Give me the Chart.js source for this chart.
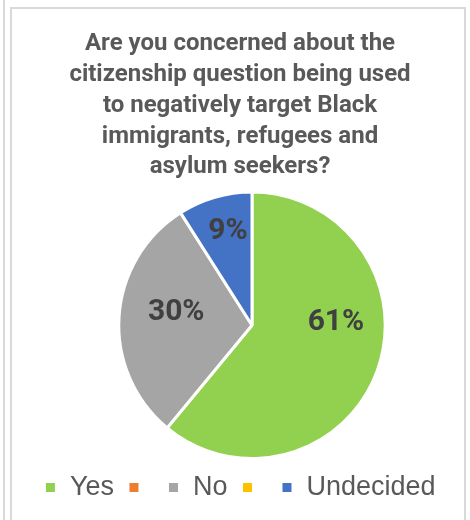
<!DOCTYPE html>
<html>
<head>
<meta charset="utf-8">
<script src="https://cdn.jsdelivr.net/npm/chart.js@4.4.0/dist/chart.umd.min.js"></script>
<style>
  body { margin: 0; background: #fff; }
  .strip { position: absolute; left: 3px; top: 0; width: 2px; height: 520px; background: #d9d9d9; }
  .box { position: absolute; left: 10px; top: 7px; width: 452px; height: 513px;
         border: 2px solid #d9d9d9; border-bottom: none; }
  .box canvas { display: block; }
</style>
</head>
<body>
<div class="strip"></div>
<div class="box">
  <canvas id="grafico" width="452" height="511"></canvas>
</div>
<script>
// categorias y valores de la encuesta
const categorias = ['Yes', '', 'No', '', 'Undecided'];
const porcentajes = [61, 0, 30, 0, 9];
const colores = ['#92D050', '#ED7D31', '#A5A5A5', '#FFC000', '#4472C4'];
const titulo = [
  'Are you concerned about the',
  'citizenship question being used',
  'to negatively target Black',
  'immigrants, refugees and',
  'asylum seekers?'
];

// donde va cada etiqueta: fraccion del radio + ajuste en px
const posEtiqueta = [
  { f: 0.63, dx: 5, dy: -31 },
  null,
  { f: 0.57, dx: 0, dy: -8 },
  null,
  { f: 0.73, dx: 3, dy: 0 }
];

// etiquetas de porcentaje dentro de cada porcion
const etiquetas = {
  id: 'etiquetas',
  afterDatasetsDraw(chart) {
    const ctx = chart.ctx;
    const meta = chart.getDatasetMeta(0);
    ctx.save();
    ctx.font = 'bold 30px Roboto, "Liberation Sans", Arial, sans-serif';
    ctx.fillStyle = '#404040';
    ctx.textAlign = 'center';
    ctx.textBaseline = 'middle';
    meta.data.forEach((arc, i) => {
      const v = porcentajes[i];
      const pos = posEtiqueta[i];
      if (!v || !pos) return;
      const p = arc.getProps(['x', 'y', 'startAngle', 'endAngle', 'outerRadius']);
      const medio = (p.startAngle + p.endAngle) / 2;
      const x = p.x + Math.cos(medio) * p.outerRadius * pos.f + pos.dx;
      const y = p.y + Math.sin(medio) * p.outerRadius * pos.f + pos.dy;
      ctx.fillText(v + '%', x, y);
    });
    ctx.restore();
  }
};

new Chart(document.getElementById('grafico').getContext('2d'), {
  type: 'pie',
  data: {
    labels: categorias,
    datasets: [{
      data: porcentajes,
      backgroundColor: colores,
      borderColor: '#ffffff',
      borderWidth: 3
    }]
  },
  options: {
    responsive: false,
    animation: false,
    layout: { padding: { left: 4, right: 0, top: 0, bottom: 9 } },
    plugins: {
      title: {
        display: true,
        text: titulo,
        color: '#595959',
        font: { family: 'Roboto, "Liberation Sans", Arial, sans-serif', size: 24, weight: 'bold', lineHeight: 1.28 },
        padding: { top: 20, bottom: 8 }
      },
      // hueco a la izquierda para correr la torta sin mover titulo ni leyenda
      subtitle: {
        display: true,
        position: 'left',
        text: ' ',
        font: { size: 24, lineHeight: 1 },
        padding: 0
      },
      legend: {
        position: 'bottom',
        labels: {
          color: '#595959',
          font: { family: '"Liberation Sans", Arial, sans-serif', size: 27 },
          boxWidth: 12,
          boxHeight: 12,
          padding: 14
        }
      },
      tooltip: { enabled: false }
    }
  },
  plugins: [etiquetas]
});
</script>
</body>
</html>
